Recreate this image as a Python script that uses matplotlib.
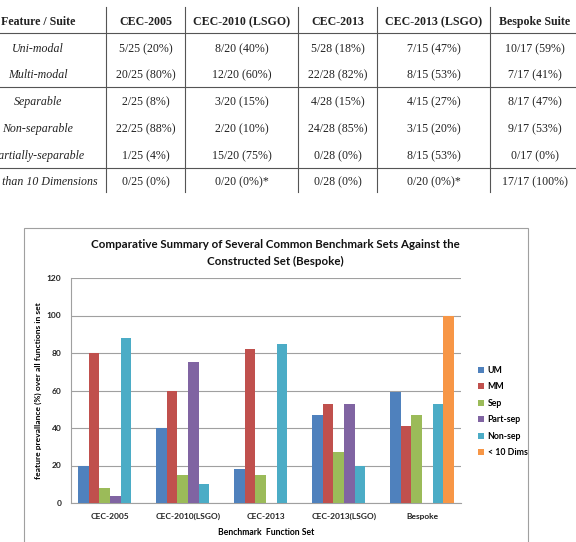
import matplotlib
matplotlib.use('Agg')
import matplotlib.pyplot as plt
import numpy as np
from matplotlib.lines import Line2D
from matplotlib.patches import Rectangle

W, H = 576, 542

# table data
suites = ['CEC-2005', 'CEC-2010 (LSGO)', 'CEC-2013', 'CEC-2013 (LSGO)', 'Bespoke Suite']
features = ['Uni-modal', 'Multi-modal', 'Separable', 'Non-separable',
            'Partially-separable', 'Less than 10 Dimensions']
cells = [
    ['5/25 (20%)', '8/20 (40%)', '5/28 (18%)', '7/15 (47%)', '10/17 (59%)'],
    ['20/25 (80%)', '12/20 (60%)', '22/28 (82%)', '8/15 (53%)', '7/17 (41%)'],
    ['2/25 (8%)', '3/20 (15%)', '4/28 (15%)', '4/15 (27%)', '8/17 (47%)'],
    ['22/25 (88%)', '2/20 (10%)', '24/28 (85%)', '3/15 (20%)', '9/17 (53%)'],
    ['1/25 (4%)', '15/20 (75%)', '0/28 (0%)', '8/15 (53%)', '0/17 (0%)'],
    ['0/25 (0%)', '0/20 (0%)*', '0/28 (0%)', '0/20 (0%)*', '17/17 (100%)'],
]

# chart data
groups = ['CEC-2005', 'CEC-2010(LSGO)', 'CEC-2013', 'CEC-2013(LSGO)', 'Bespoke']
series = ['UM', 'MM', 'Sep', 'Part-sep', 'Non-sep', '< 10 Dims']
um = [20, 40, 18, 47, 59]
mm = [80, 60, 82, 53, 41]
sep = [8, 15, 15, 27, 47]
part_sep = [4, 75, 0, 53, 0]
non_sep = [88, 10, 85, 20, 53]
low_dims = [0, 0, 0, 0, 100]
colors = ['#4F81BD', '#C0504D', '#9BBB59', '#8064A2', '#4BACC6', '#F79646']

fig = plt.figure(figsize=(W / 100, H / 100), dpi=100)


def fx(x):
    return x / W


def fy(y):
    return 1 - y / H


# ---- table (cropped at the left/right like the source) ----
serif = 'Liberation Serif'
col_x = [38, 145.5, 241.5, 337.5, 433.5, 535]
row_y = [49, 75, 102, 129, 156, 182]
tc = '#222222'
fig.text(fx(col_x[0]), fy(22), 'Feature / Suite', ha='center', va='center',
         family=serif, fontweight='bold', fontsize=8.6, color=tc)
for j, s in enumerate(suites):
    fig.text(fx(col_x[j + 1]), fy(22), s, ha='center', va='center',
             family=serif, fontweight='bold', fontsize=8.6, color=tc)
for i, f in enumerate(features):
    fig.text(fx(col_x[0]), fy(row_y[i]), f, ha='center', va='center',
             family=serif, style='italic', fontsize=8.6, color=tc)
    for j in range(len(suites)):
        fig.text(fx(col_x[j + 1]), fy(row_y[i]), cells[i][j], ha='center', va='center',
                 family=serif, fontsize=8.6, color=tc)

for yl in [33, 87, 168]:
    fig.add_artist(Line2D([0, 1], [fy(yl), fy(yl)], transform=fig.transFigure,
                          color='#555555', lw=0.8))
for xl in [106, 185, 298, 377, 490]:
    fig.add_artist(Line2D([fx(xl), fx(xl)], [fy(7), fy(192)], transform=fig.transFigure,
                          color='#555555', lw=0.8))

# ---- chart frame ----
fig.add_artist(Rectangle((fx(24), fy(560)), fx(528) - fx(24), fy(228) - fy(560),
                         transform=fig.transFigure, fill=False, ec='#a0a0a0', lw=0.8))
sans = 'Lato'
fig.text(fx(275), fy(253), 'Comparative Summary of Several Common Benchmark Sets Against the\n'
         'Constructed Set (Bespoke)', ha='center', va='center', family=sans,
         fontweight='bold', fontsize=8.3, linespacing=1.55, color='#111111')

ax = fig.add_axes([fx(71), fy(503), fx(461) - fx(71), fy(278) - fy(503)])
data = [um, mm, sep, part_sep, non_sep, low_dims]
x = np.arange(len(groups))
bw = 0.135
for k, (vals, c) in enumerate(zip(data, colors)):
    ax.bar(x + (k - 2.5) * bw, vals, bw, color=c, label=series[k], zorder=3)

ax.set_xlim(-0.5, len(groups) - 0.5)
ax.set_ylim(0, 120)
ax.set_yticks(range(0, 121, 20))
ax.set_xticks(x)
ax.set_xticklabels(groups)
ax.yaxis.grid(True, color='#a0a0a0', lw=0.8, zorder=0)
for sp in ['top', 'right']:
    ax.spines[sp].set_visible(False)
for sp in ['left', 'bottom']:
    ax.spines[sp].set_color('#a0a0a0')
    ax.spines[sp].set_linewidth(0.8)
ax.tick_params(length=0, pad=7)
for lab in ax.get_xticklabels() + ax.get_yticklabels():
    lab.set_family(sans)
    lab.set_fontweight('bold')
    lab.set_fontsize(6)
    lab.set_color('#222222')
ax.set_ylabel('feature prevallance (%) over all functions in set', family=sans,
              fontweight='bold', fontsize=6.1, labelpad=3)
ax.set_xlabel('Benchmark  Function Set', family=sans, fontweight='bold', fontsize=6.2,
              labelpad=6)

ax.legend(loc='upper left', bbox_to_anchor=(fx(470), fy(358)), bbox_transform=fig.transFigure,
          frameon=False, prop={'family': sans, 'weight': 'bold', 'size': 6.3},
          handlelength=0.7, handleheight=0.7, handletextpad=0.4, labelspacing=0.85)

fig.savefig('out.png', dpi=100)
